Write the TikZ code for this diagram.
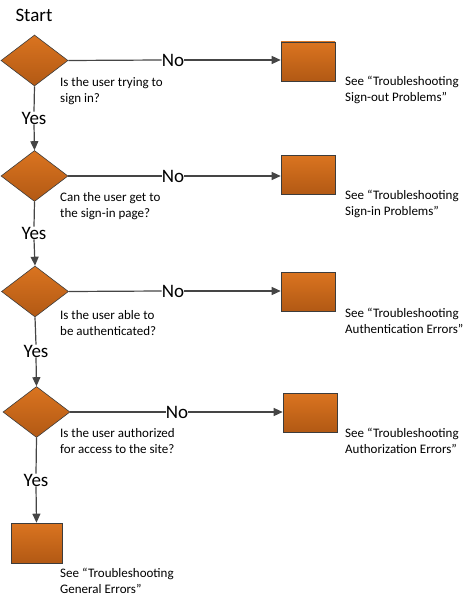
\documentclass[tikz,border=0pt]{standalone}
\usepackage{fontspec}
\setmainfont{Carlito}
\usetikzlibrary{shapes.geometric,arrows.meta}
\definecolor{otop}{HTML}{DA7420}
\definecolor{obot}{HTML}{B25914}
\definecolor{edge}{HTML}{3C3C3C}
\definecolor{conn}{HTML}{454545}
\tikzset{
  dec/.style={diamond,aspect=1.31,minimum width=67pt,minimum height=51pt,inner sep=0pt,
    draw=edge,line width=0.6pt,top color=otop,bottom color=obot},
  endbox/.style={rectangle,minimum width=54pt,minimum height=39pt,inner sep=0pt,
    draw=edge,line width=0.6pt,top color=otop,bottom color=obot},
  big/.style={font=\fontsize{19}{22}\selectfont,inner sep=0pt},
  lbl/.style={font=\fontsize{13}{16}\selectfont,align=left,anchor=north west,inner sep=0pt},
  ln/.style={draw=conn,line width=1.2pt},
  arr/.style={ln,-{Triangle[length=9pt,width=8pt]}},
}
\begin{document}
\begin{tikzpicture}[x=1pt,y=-1pt]
\useasboundingbox (0,0) rectangle (467,596);
\node[big] (start) at (34,15) {Start};
% row 1
\node[dec] (d1) at (34.5,60.5) {};
\node[big] (n1) at (173,60) {No};
\node[endbox] (b1) at (308,61.5) {};
\node[lbl] (q1) at (60,77) {Is the user trying to\\sign in?};
\node[lbl] (t1) at (345,76) {See “Troubleshooting\\Sign-out Problems”};
\node[big] (y1) at (34,118) {Yes};
% row 2
\node[dec] (d2) at (34.5,176) {};
\node[big] (n2) at (173,176) {No};
\node[endbox] (b2) at (308,175) {};
\node[lbl] (q2) at (60,192) {Can the user get to\\the sign-in page?};
\node[lbl] (t2) at (345,190) {See “Troubleshooting\\Sign-in Problems”};
\node[big] (y2) at (34,233) {Yes};
% row 3
\node[dec] (d3) at (35,291.5) {};
\node[big] (n3) at (173,291) {No};
\node[endbox] (b3) at (308,291.5) {};
\node[lbl] (q3) at (60,310) {Is the user able to\\be authenticated?};
\node[lbl] (t3) at (345,308) {See “Troubleshooting\\Authentication Errors”};
\node[big] (y3) at (36,351) {Yes};
% row 4
\node[dec] (d4) at (36.5,412) {};
\node[big] (n4) at (177,412) {No};
\node[endbox] (b4) at (310,412.5) {};
\node[lbl] (q4) at (60,428) {Is the user authorized\\for access to the site?};
\node[lbl] (t4) at (345,428) {See “Troubleshooting\\Authorization Errors”};
\node[big] (y4) at (36,480) {Yes};
% final
\node[endbox,minimum width=51pt,minimum height=40pt] (b5) at (36.5,543) {};
\node[lbl] (t5) at (60,568) {See “Troubleshooting\\General Errors”};
% connectors
\foreach \i/\j in {1/2,2/3,3/4}{
  \draw[ln] (d\i.south) -- (y\i.north);
  \draw[arr] (y\i.south) -- (d\j.north);
}
\draw[ln] (d4.south) -- (y4.north);
\draw[arr] (y4.south) -- (b5.north);
\foreach \i in {1,2,3,4}{
  \draw[ln] (d\i.east) -- (n\i.west);
  \draw[arr] (n\i.east) -- (b\i.west|-n\i.east);
}
\end{tikzpicture}
\end{document}
